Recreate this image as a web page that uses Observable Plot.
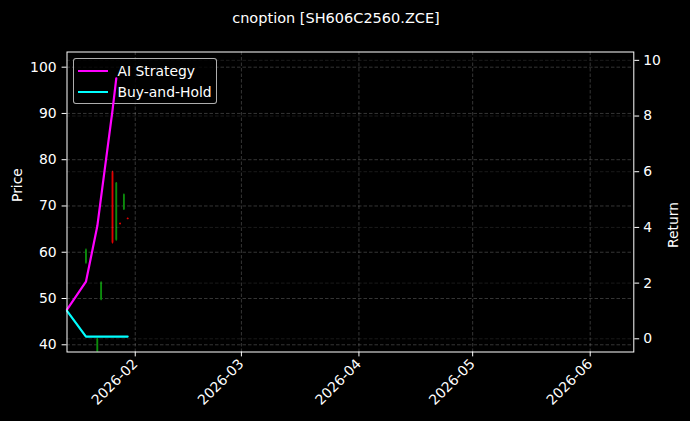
<!DOCTYPE html>
<html><head><meta charset="utf-8">
<script src="https://cdn.jsdelivr.net/npm/d3@7"></script>
<script src="https://cdn.jsdelivr.net/npm/@observablehq/plot@0.6"></script>
<style>
html,body{margin:0;padding:0;background:#000;}
#wrap{position:relative;width:690px;height:421px;background:#000;font-family:"DejaVu Sans",sans-serif;color:#fff;overflow:hidden;}
#title{height:36px;box-sizing:border-box;padding-top:10px;padding-right:18px;text-align:center;font-size:14.5px;line-height:17px;white-space:nowrap;}
#chart{position:relative;width:690px;height:385px;}
#chart > svg{position:absolute;left:0;top:0;}
#legend{position:absolute;left:73px;top:22px;width:144px;height:46px;box-sizing:border-box;border:1px solid rgba(204,204,204,0.85);border-radius:3px;background:rgba(0,0,0,0.8);font-size:13.9px;}
#legend .sw{position:absolute;left:4px;width:30px;height:2.2px;}
#legend .lb{position:absolute;left:43.5px;line-height:16px;white-space:nowrap;}
</style>
</head><body>
<div id="wrap">
  <div id="title">cnoption [SH606C2560.ZCE]</div>
  <div id="chart"></div>
</div>
<script>
// ---- data ----
const candleDates = ["2026-01-19","2026-01-22","2026-01-23","2026-01-26","2026-01-27","2026-01-28","2026-01-29","2026-01-30"];
const candleOpen  = [57.6, 35.5, 49.7, 77.2, 62.6, 66.2, 69.2, 67.3];
const candleHigh  = [60.7, 41.4, 53.6, 77.5, 75.1, 66.3, 72.6, 67.4];
const candleLow   = [57.4, 35.0, 49.5, 61.8, 62.4, 65.9, 69.0, 67.0];
const candleClose = [60.5, 41.2, 53.4, 62.0, 74.9, 66.0, 72.4, 67.1];

const lineDates = ["2026-01-14","2026-01-19","2026-01-22","2026-01-23","2026-01-26","2026-01-27","2026-01-28","2026-01-29","2026-01-30"];
const aiReturn  = [1.05, 2.05, 4.05, 5.1, 8.2, 9.35, null, null, null];
const bhReturn  = [1.0, 0.08, 0.08, 0.08, 0.08, 0.08, 0.08, 0.08, 0.08];

const seriesNames = ["AI Strategy", "Buy-and-Hold"];
const seriesColors = ["#ff00ff", "#00ffff"];

const xTickLabels = ["2026-02","2026-03","2026-04","2026-05","2026-06"];
const priceTicks = [40, 50, 60, 70, 80, 90, 100];
const returnTicks = [0, 2, 4, 6, 8, 10];

const xDomain = [new Date("2026-01-14T00:00:00Z"), new Date("2026-06-12T12:00:00Z")];
const priceDomain = [38.44, 103.28];
const returnDomain = [-0.474, 10.30];

// ---- tables ----
const candles = candleDates.map((d, i) => ({
  date: new Date(d + "T00:00:00Z"), open: candleOpen[i], high: candleHigh[i], low: candleLow[i], close: candleClose[i],
  color: candleClose[i] >= candleOpen[i] ? "#0c8c0c" : "#e00000"
}));
const aiData = lineDates.map((d, i) => ({date: new Date(d + "T00:00:00Z"), value: aiReturn[i]})).filter(d => d.value != null);
const bhData = lineDates.map((d, i) => ({date: new Date(d + "T00:00:00Z"), value: bhReturn[i]})).filter(d => d.value != null);
const xTicks = xTickLabels.map(s => new Date(s + "-01T00:00:00Z"));

const W = 690, H = 385;
const M = {marginTop: 15.5, marginRight: 56.7, marginBottom: 69.5, marginLeft: 66.5};
const FS = 13.9;
const baseStyle = {background: "transparent", color: "#fff", fontFamily: "DejaVu Sans, sans-serif", fontSize: FS + "px", overflow: "visible"};
const gridStyle = {stroke: "#fff", strokeOpacity: 0.3, strokeWidth: 0.7, strokeDasharray: "3.5,2"};

const chart = document.getElementById("chart");

// price layer
const pricePlot = Plot.plot({
  width: W, height: H, ...M, style: baseStyle,
  x: {type: "utc", domain: xDomain},
  y: {domain: priceDomain},
  color: {type: "identity"},
  marks: [
    Plot.gridX(xTicks, gridStyle),
    Plot.gridY(priceTicks, gridStyle),
    Plot.ruleX(candles, {x: "date", y1: "low", y2: "high", stroke: "color", strokeWidth: 1.1, clip: true}),
    Plot.ruleX(candles, {x: "date", y1: "open", y2: "close", stroke: "color", strokeWidth: 1.8, clip: true}),
    Plot.axisX({ticks: xTicks, tickFormat: d3.utcFormat("%Y-%m"), tickRotate: -45, tickSize: 4.9, tickPadding: 4.6, label: null, stroke: "#fff", strokeWidth: 1, fontSize: FS}),
    Plot.axisY({ticks: priceTicks, tickSize: 4.9, tickPadding: 5.5, label: null, stroke: "#fff", strokeWidth: 1, fontSize: FS}),
    Plot.text(["Price"], {text: d => d, frameAnchor: "left", dx: -49.5, rotate: -90, fill: "#fff", fontSize: FS})
  ]
});
chart.appendChild(pricePlot);

// return grid layer
const retGrid = Plot.plot({
  width: W, height: H, ...M, style: baseStyle,
  x: {type: "utc", domain: xDomain, axis: null},
  y: {domain: returnDomain, axis: null},
  marks: [
    Plot.gridY(returnTicks, {...gridStyle, strokeOpacity: 0.15})
  ]
});
chart.appendChild(retGrid);

// legend (html)
const legend = document.createElement("div");
legend.id = "legend";
seriesNames.forEach((name, i) => {
  const sw = document.createElement("div");
  sw.className = "sw"; sw.style.top = (10.9 + i * 20.7) + "px"; sw.style.background = seriesColors[i];
  const lb = document.createElement("div");
  lb.className = "lb"; lb.style.top = (4.2 + i * 20.7) + "px"; lb.textContent = name;
  legend.appendChild(sw); legend.appendChild(lb);
});
chart.appendChild(legend);

// return lines layer
const retPlot = Plot.plot({
  width: W, height: H, ...M, style: baseStyle,
  x: {type: "utc", domain: xDomain, axis: null},
  y: {domain: returnDomain},
  marks: [
    Plot.lineY(aiData, {x: "date", y: "value", stroke: seriesColors[0], strokeWidth: 2.2, strokeLinejoin: "round"}),
    Plot.lineY(bhData, {x: "date", y: "value", stroke: seriesColors[1], strokeWidth: 2.2, strokeLinejoin: "round"}),
    Plot.frame({stroke: "#fff", strokeWidth: 1}),
    Plot.axisY({anchor: "right", ticks: returnTicks, tickSize: 4.9, tickPadding: 4.5, label: null, stroke: "#fff", strokeWidth: 1, fontSize: FS}),
    Plot.text(["Return"], {text: d => d, frameAnchor: "right", dx: 39.7, rotate: -90, fill: "#fff", fontSize: FS})
  ]
});
chart.appendChild(retPlot);
</script>
</body></html>
